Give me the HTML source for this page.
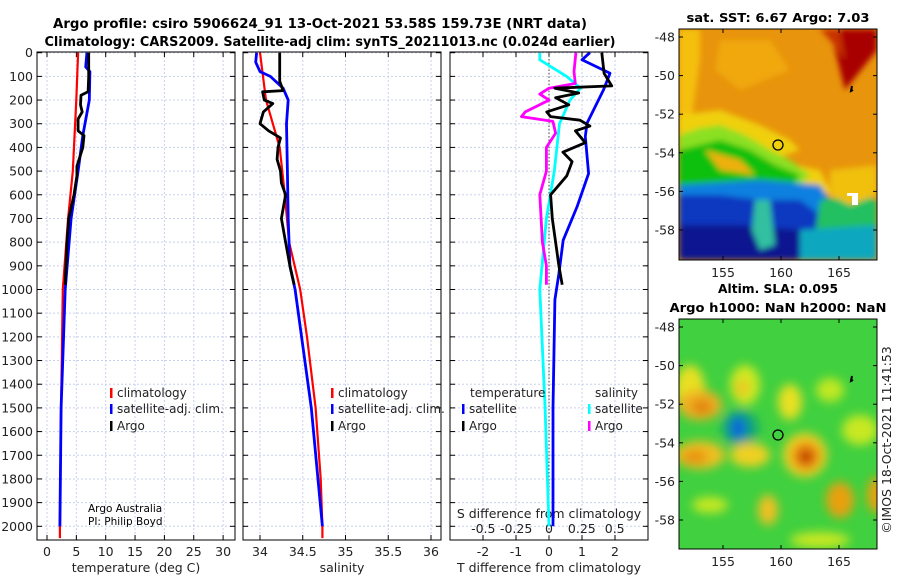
<!DOCTYPE html>
<html><head><meta charset="utf-8"><style>
body{margin:0;background:#fff;}
svg{display:block;font-family:"DejaVu Sans","Liberation Sans",sans-serif;}
</style></head><body>
<svg id="fig" width="900" height="580" viewBox="0 0 900 580" xmlns="http://www.w3.org/2000/svg">
<defs>
<filter id="bl" x="-20%" y="-20%" width="140%" height="140%"><feGaussianBlur stdDeviation="5"/></filter>
<filter id="bl2" x="-20%" y="-20%" width="140%" height="140%"><feGaussianBlur stdDeviation="3"/></filter>
<clipPath id="cm1"><rect x="679" y="29" width="198" height="231"/></clipPath>
<clipPath id="cm2"><rect x="679" y="319" width="198" height="230"/></clipPath>
</defs>
<text x="320" y="28" font-size="13" font-weight="bold" text-anchor="middle" textLength="534" lengthAdjust="spacingAndGlyphs">Argo profile: csiro 5906624_91 13-Oct-2021 53.58S 159.73E (NRT data)</text>
<text x="330" y="46" font-size="13" font-weight="bold" text-anchor="middle" textLength="571" lengthAdjust="spacingAndGlyphs">Climatology: CARS2009. Satellite-adj clim: synTS_20211013.nc (0.024d earlier)</text>
<g id="panels"></g>
<g>
<g clip-path="url(#cm1)">
<rect x="679" y="29" width="198" height="231" fill="#e8940c"/>
<g filter="url(#bl2)">
<polygon points="679,29 700,29 700,60 690,130 679,130" fill="#f5c010"/>
<polygon points="720,40 770,40 790,70 740,90 715,70" fill="#f0a810"/>
<polygon points="830,29 877,29 877,50 845,90 840,70" fill="#a80000"/>
<polygon points="820,29 840,29 845,60 830,40" fill="#c83000"/>
<polygon points="679,115 720,110 760,125 790,140 800,150 770,160 820,170 830,190 820,205 790,200 679,200" fill="#f0d010"/>
<polygon points="679,135 700,128 720,125 745,135 770,150 790,160 810,175 800,185 760,185 679,190" fill="#8ce020"/>
<polygon points="679,150 720,140 750,150 775,165 800,175 790,190 679,195" fill="#10c010"/>
<polygon points="705,150 740,160 755,175 720,170" fill="#f0b010"/>
<polygon points="679,185 760,180 820,185 830,200 830,260 679,260" fill="#1080e0"/>
<polygon points="679,195 720,195 760,200 800,200 820,215 830,240 810,260 679,260" fill="#0838c0"/>
<polygon points="679,225 740,225 800,230 820,260 679,260" fill="#0a1890"/>
<polygon points="755,200 770,200 775,245 760,250 752,230" fill="#30c0a0"/>
<polygon points="820,200 860,195 877,200 877,260 800,260 815,235" fill="#20c060"/>
<polygon points="830,170 877,165 877,195 850,205 830,195" fill="#f0c010"/>
<polygon points="800,230 877,225 877,260 800,260" fill="#10a8c0"/>
</g>
<rect x="852" y="193" width="6" height="12" fill="#fff"/>
<rect x="847" y="193" width="10" height="3" fill="#fff"/>
</g>
<rect x="679" y="29" width="198" height="231" fill="none" stroke="#000"/>
<circle cx="778" cy="145" r="5" fill="none" stroke="#000" stroke-width="1.3"/>
<path d="M852 86 l-1 5 l2 -1" stroke="#000" stroke-width="2" fill="none"/>
</g>
<g>
<g clip-path="url(#cm2)">
<rect x="679" y="319" width="198" height="230" fill="#40d040"/>
<g filter="url(#bl)">
<ellipse cx="690" cy="390" rx="15" ry="25" fill="#e8e020"/>
<ellipse cx="700" cy="405" rx="22" ry="15" fill="#f0b020"/>
<ellipse cx="702" cy="407" rx="10" ry="7" fill="#e08010"/>
<ellipse cx="745" cy="385" rx="15" ry="20" fill="#d0e820"/>
<ellipse cx="742" cy="388" rx="6" ry="8" fill="#f0c020"/>
<ellipse cx="790" cy="402" rx="12" ry="18" fill="#e8e020"/>
<ellipse cx="740" cy="428" rx="18" ry="18" fill="#10a080"/>
<ellipse cx="738" cy="428" rx="7" ry="11" fill="#1060e0"/>
<ellipse cx="700" cy="455" rx="25" ry="14" fill="#f0c020"/>
<ellipse cx="695" cy="457" rx="13" ry="7" fill="#e89010"/>
<ellipse cx="750" cy="455" rx="20" ry="12" fill="#f0d020"/>
<ellipse cx="805" cy="455" rx="22" ry="22" fill="#f0d020"/>
<ellipse cx="806" cy="456" rx="14" ry="14" fill="#e88010"/>
<ellipse cx="806" cy="457" rx="6" ry="6" fill="#b02000"/>
<ellipse cx="768" cy="510" rx="10" ry="15" fill="#f0c020"/>
<ellipse cx="840" cy="500" rx="14" ry="18" fill="#e8a010"/>
<ellipse cx="877" cy="495" rx="10" ry="18" fill="#e8a010"/>
<ellipse cx="830" cy="390" rx="14" ry="12" fill="#c0e820"/>
<ellipse cx="860" cy="430" rx="18" ry="15" fill="#c8e820"/>
<ellipse cx="710" cy="505" rx="18" ry="8" fill="#c8e820"/>
<ellipse cx="820" cy="540" rx="30" ry="8" fill="#c8e820"/>
</g>
</g>
<rect x="679" y="319" width="198" height="230" fill="none" stroke="#000"/>
<circle cx="778" cy="435" r="5" fill="none" stroke="#000" stroke-width="1.3"/>
<path d="M852 376 l-1 5 l2 -1" stroke="#000" stroke-width="2" fill="none"/>
</g>
<text x="778" y="22" font-size="12.5" font-weight="bold" text-anchor="middle" textLength="183" lengthAdjust="spacingAndGlyphs">sat. SST: 6.67 Argo: 7.03</text>
<text x="778" y="293" font-size="12.5" font-weight="bold" text-anchor="middle" textLength="120" lengthAdjust="spacingAndGlyphs">Altim. SLA: 0.095</text>
<text x="778" y="312" font-size="12.5" font-weight="bold" text-anchor="middle" textLength="217" lengthAdjust="spacingAndGlyphs">Argo h1000: NaN h2000: NaN</text>
<text transform="translate(891,440) rotate(-90)" font-size="12.5" text-anchor="middle" fill="#222">©IMOS 18-Oct-2021 11:41:53</text>
<g id="mapaxes"></g>
<text x="88" y="512" font-size="10.5">Argo Australia</text>
<text x="88" y="525" font-size="10.5">PI: Philip Boyd</text>
</svg>
<script>
// ---- data ----
const climTDepth=[0,200,500,700,1000,1500,2000,2050];
const climT=[5.3,5.0,4.4,3.6,2.7,2.4,2.2,2.2];
const satTDepth=[0,60,80,200,350,500,700,1000,1500,2000];
const satT=[6.8,6.6,7.3,7.2,6.1,5.3,4.1,3.1,2.4,2.2];
const argoTDepth=[0,100,165,180,220,250,280,330,350,400,480,520,600,700,800,980];
const argoT=[7.1,7.1,7.0,5.8,5.7,6.0,5.3,5.3,6.3,6.1,5.1,5.1,4.6,3.7,3.4,3.1];
const climSDepth=[0,200,400,600,800,1000,1200,1500,1800,2000,2050];
const climS=[34.0,34.07,34.23,34.29,34.34,34.47,34.55,34.65,34.71,34.73,34.73];
const satSDepth=[0,40,80,100,150,200,300,500,700,900,1000,1500,2000];
const satS=[33.96,33.95,34.0,34.12,34.27,34.33,34.31,34.32,34.33,34.35,34.41,34.6,34.73];
const argoSDepth=[0,120,160,165,200,215,250,300,330,360,400,450,500,550,600,700,800,900,980];
const argoS=[34.23,34.23,34.27,34.03,34.05,34.15,34.04,34.0,34.1,34.24,34.21,34.2,34.24,34.25,34.3,34.25,34.3,34.35,34.4];
const dTsatDepth=[0,30,87,157,298,354,510,651,792,933,1043,1500,2000];
const dTsat=[1.24,1.0,1.85,1.65,1.15,1.1,1.2,0.85,0.43,0.3,0.18,0.12,0.12];
const dTargoDepth=[0,87,140,150,170,190,220,250,270,285,310,330,380,420,460,520,600,700,800,900,980];
const dTargo=[1.6,1.67,1.9,0.18,0.9,0.2,0.6,-0.07,0.05,0.94,1.24,0.8,1.1,0.42,0.7,0.54,0.05,0.1,0.2,0.3,0.4];
const dSsatDepth=[0,30,100,150,200,300,500,700,1000,1500,2000];
const dSsat=[-0.07,-0.07,0.135,0.24,0.16,0.08,0.04,-0.02,-0.07,-0.03,0.0];
const dSargoDepth=[0,80,130,150,175,200,250,270,290,340,400,500,600,700,800,900,980];
const dSargo=[0.205,0.19,0.2,0.0,-0.07,0.0,-0.18,-0.21,0.03,0.05,-0.02,-0.02,-0.07,-0.06,-0.05,-0.02,-0.02];
const depthTicks=[0,100,200,300,400,500,600,700,800,900,1000,1100,1200,1300,1400,1500,1600,1700,1800,1900,2000];
const tTicks=[0,5,10,15,20,25,30];
const sTicks=[34,34.5,35,35.5,36];
const dTTicks=[-2,-1,0,1,2];
const dSTicks=[-0.5,-0.25,0,0.25,0.5];
const dSTickLabels=["-0.5","-0.25","0","0.25","0.5"];
const lonTicks=[155,160,165];
const latTicks=[-48,-50,-52,-54,-56,-58];

// ---- axes ----
const NS="http://www.w3.org/2000/svg";
const TOP=52, BOT=540;
const yD=d=>52.7+0.2368*d;
const xT=v=>47+5.87*v;
const xS=v=>260+85.5*(v-34);
const xDT=v=>549+33*v;
const xDS=v=>549+131.4*v;
const P=[{l:37,r:235},{l:243,r:441},{l:450,r:648}];
const root=document.getElementById('panels');
function mk(tag,attrs,parent){const e=document.createElementNS(NS,tag);for(const k in attrs)e.setAttribute(k,attrs[k]);(parent||root).appendChild(e);return e;}
function txt(x,y,s,size,anchor,parent){const t=mk('text',{x:x,y:y,'font-size':size,'text-anchor':anchor||'middle',fill:'#222'},parent);t.textContent=s;return t;}

P.forEach((p,i)=>{
  const g=mk('g',{});
  
  
  depthTicks.forEach(d=>{
    const l=mk('line',{x1:p.l,x2:p.r,y1:yD(d),y2:yD(d),stroke:'#c8d0ee','stroke-dasharray':'2,2','stroke-width':1},g);
    
    
    mk('line',{x1:p.l,x2:p.l+5,y1:yD(d),y2:yD(d),stroke:'#000'},g);
    mk('line',{x1:p.r,x2:p.r-5,y1:yD(d),y2:yD(d),stroke:'#000'},g);
    if(i===0){const t=txt(p.l-4,yD(d)+4.5,String(d),12.5,'end',g);}
  });
});
function vgrid(xs,fx,p,labels,ly){
  xs.forEach((v,k)=>{
    const x=fx(v);
    const l=mk('line',{x1:x,x2:x,y1:TOP,y2:BOT,stroke:'#c8d0ee','stroke-dasharray':'2,2'});
    
    
    mk('line',{x1:x,x2:x,y1:BOT,y2:BOT-5,stroke:'#000'});
    mk('line',{x1:x,x2:x,y1:TOP,y2:TOP+5,stroke:'#000'});
    const t=txt(x,ly,labels?labels[k]:String(v),12.5,'middle');
    
    
  });
}
vgrid(tTicks,xT,P[0],null,556);
vgrid(sTicks,xS,P[1],null,556);
vgrid(dTTicks,xDT,P[2],null,556);
mk('line',{x1:xDT(0),x2:xDT(0),y1:TOP,y2:BOT,stroke:'#444','stroke-dasharray':'1.5,2'});
dSTicks.forEach((v,k)=>{const t=txt(xDS(v),533,dSTickLabels[k],12.5,'middle');});
{const t=txt(549,518,'S difference from climatology',12.5,'middle');}

function line(depths,vals,fx,color,w,name){
  const pts=depths.map((d,k)=>fx(vals[k]).toFixed(1)+','+Math.min(yD(d),BOT).toFixed(1)).join(' ');
  const l=mk('polyline',{points:pts,fill:'none',stroke:color,'stroke-width':w,'stroke-linejoin':'round'});
  
  
}
line(climTDepth,climT,xT,'#ff0000',2.2,'temperature-climatology-line');
line(satTDepth,satT,xT,'#0000ff',2.8,'temperature-satellite-line');
line(argoTDepth,argoT,xT,'#000',2.8,'temperature-argo-line');
line(climSDepth,climS,xS,'#ff0000',2.2,'salinity-climatology-line');
line(satSDepth,satS,xS,'#0000ff',2.8,'salinity-satellite-line');
line(argoSDepth,argoS,xS,'#000',2.8,'salinity-argo-line');
line(dSsatDepth,dSsat,xDS,'#00ffff',2.8,'s-diff-satellite-line');
line(dSargoDepth,dSargo,xDS,'#ff00ff',2.8,'s-diff-argo-line');
line(dTsatDepth,dTsat,xDT,'#0000ff',2.8,'t-diff-satellite-line');
line(dTargoDepth,dTargo,xDT,'#000',2.8,'t-diff-argo-line');

P.forEach(p=>{mk('rect',{x:p.l,y:TOP,width:p.r-p.l,height:BOT-TOP,fill:'none',stroke:'#000','stroke-width':1});});

[['temperature (deg C)',136,'temperature-axis-title'],['salinity',342,'salinity-axis-title'],['T difference from climatology',549,'t-diff-axis-title']].forEach(a=>{
  const t=txt(a[1],572,a[0],12.5,'middle');
  
  
});

function legend(x,y,color,label){
  const g=mk('g',{});
  
  
  mk('rect',{x:x,y:y-9,width:2.5,height:10,fill:color},g);
  txt(x+7,y,label,12,'start',g);
}
legend(110,397,'#ff0000','climatology');
legend(110,413,'#0000ff','satellite-adj. clim.');
legend(110,430,'#000','Argo');
legend(331,397,'#ff0000','climatology');
legend(331,413,'#0000ff','satellite-adj. clim.');
legend(331,430,'#000','Argo');
{const t=txt(470,397,'temperature',12,'start');}
legend(462,413,'#0000ff','satellite');
legend(462,430,'#000','Argo');
{const t=txt(595,397,'salinity',12,'start');}
legend(588,413,'#00ffff','satellite');
legend(588,430,'#ff00ff','Argo');

const ma=document.getElementById('mapaxes');
const xLon=v=>781+11.6*(v-160);
[[29,260,37],[319,549,327]].forEach(m=>{
  const yLat=v=>m[2]+(-48-v)*19.3;
  lonTicks.forEach(v=>{
    mk('line',{x1:xLon(v),x2:xLon(v),y1:m[1],y2:m[1]-4,stroke:'#000'},ma);
    mk('line',{x1:xLon(v),x2:xLon(v),y1:m[0],y2:m[0]+4,stroke:'#000'},ma);
    const t=txt(xLon(v),m[1]+17,String(v),12.5,'middle',ma);
    
    
  });
  latTicks.forEach(v=>{
    mk('line',{x1:679,x2:683,y1:yLat(v),y2:yLat(v),stroke:'#000'},ma);
    mk('line',{x1:877,x2:873,y1:yLat(v),y2:yLat(v),stroke:'#000'},ma);
    const t=txt(675,yLat(v)+4.5,String(v),12.5,'end',ma);
    
    
  });
});
</script>
</body></html>
